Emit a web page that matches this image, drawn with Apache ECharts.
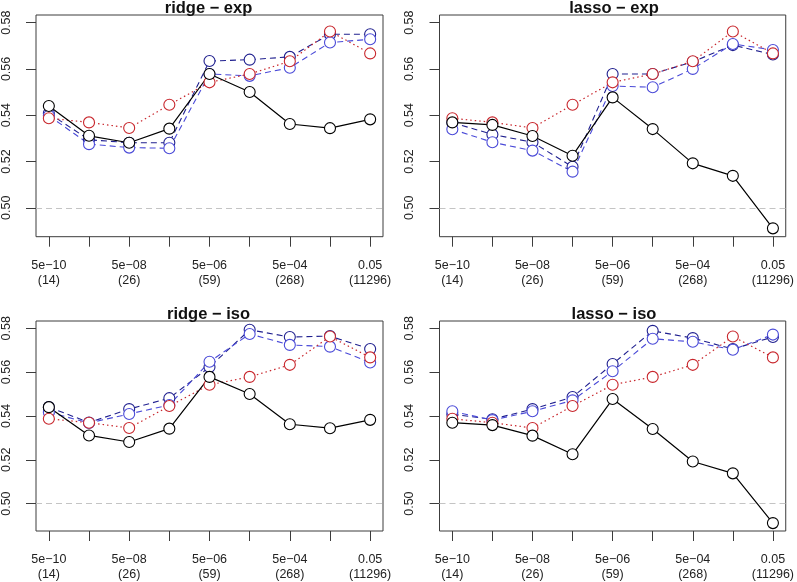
<!DOCTYPE html>
<html>
<head>
<meta charset="UTF-8">
<title>ridge / lasso</title>
<script src="https://cdn.jsdelivr.net/npm/echarts@6/dist/echarts.min.js"></script>
</head>
<body style="margin:0; background:#fff;">
<div id="main" style="width: 797px; height: 582px;"></div>
<script type="text/javascript">
// x positions and tick labels
var xPos = [1, 2, 3, 4, 5, 6, 7, 8, 9];
var labelAt = [1, 3, 5, 7, 9];
var lambdaLabels = ['5e\u221210', '5e\u221208', '5e\u221206', '5e\u221204', '0.05'];
var sizeLabels = ['(14)', '(26)', '(59)', '(268)', '(11296)'];
var yTicks = [0.50, 0.52, 0.54, 0.56, 0.58];
var panelTitles = ['ridge \u2212 exp', 'lasso \u2212 exp', 'ridge \u2212 iso', 'lasso \u2212 iso'];

// values
var blackRidge = [0.5440, 0.5311, 0.5281, 0.5342, 0.5578, 0.5500, 0.5362, 0.5344, 0.5382];
var blackLasso = [0.5369, 0.5358, 0.5310, 0.5225, 0.5477, 0.5340, 0.5192, 0.5138, 0.4911];
var redAll = [0.5387, 0.5369, 0.5345, 0.5445, 0.5542, 0.5578, 0.5633, 0.5762, 0.5667];

var ridgeExpDark = [0.5408, 0.5294, 0.5281, 0.5281, 0.5634, 0.5640, 0.5652, 0.5750, 0.5750];
var ridgeExpLight = [0.5398, 0.5275, 0.5260, 0.5257, 0.5578, 0.5570, 0.5605, 0.5714, 0.5728];
var lassoExpDark = [0.5368, 0.5317, 0.5283, 0.5177, 0.5578, 0.5578, 0.5631, 0.5703, 0.5662];
var lassoExpLight = [0.5339, 0.5283, 0.5247, 0.5156, 0.5526, 0.5521, 0.5600, 0.5708, 0.5682];
var ridgeIsoDark = [0.5440, 0.5370, 0.5431, 0.5481, 0.5623, 0.5793, 0.5760, 0.5764, 0.5705];
var ridgeIsoLight = [0.5417, 0.5368, 0.5409, 0.5450, 0.5647, 0.5774, 0.5724, 0.5716, 0.5644];
var lassoIsoDark = [0.5407, 0.5385, 0.5431, 0.5486, 0.5637, 0.5788, 0.5755, 0.5705, 0.5760];
var lassoIsoLight = [0.5421, 0.5381, 0.5421, 0.5471, 0.5604, 0.5752, 0.5738, 0.5702, 0.5771];

var panels = [
	{ dark: ridgeExpDark, light: ridgeExpLight, black: blackRidge },
	{ dark: lassoExpDark, light: lassoExpLight, black: blackLasso },
	{ dark: ridgeIsoDark, light: ridgeIsoLight, black: blackRidge },
	{ dark: lassoIsoDark, light: lassoIsoLight, black: blackLasso }
];

var font = 'Liberation Sans, Arial, Helvetica, sans-serif';
var boxLeft = [34, 439.5, 34, 439.5];
var boxTop = [15, 15, 321, 321];
var boxW = 349, boxH = 221.7;

function pts(vals) {
	return vals.map(function (v, i) { return [xPos[i], v]; });
}

function lineSeries(p, name, vals, color, dash, width) {
	return {
		name: name,
		type: 'line',
		xAxisIndex: p,
		yAxisIndex: p,
		data: pts(vals),
		symbol: 'circle',
		symbolSize: 11,
		lineStyle: { color: color, width: width, type: dash },
		itemStyle: { color: '#fff', borderColor: color, borderWidth: 1.1 },
		emphasis: { disabled: true }
	};
}

var myChart = echarts.init(document.getElementById('main'));
var grids = [], xAxes = [], yAxes = [], titles = [], series = [];

for (var p = 0; p < 4; p++) {
	grids.push({
		left: boxLeft[p], top: boxTop[p], width: boxW, height: boxH,
		show: true, borderColor: '#3c3c3c', borderWidth: 1
	});
	titles.push({
		text: panelTitles[p],
		left: boxLeft[p] + boxW / 2,
		top: boxTop[p] - 15,
		textAlign: 'center',
		padding: 0,
		textStyle: { fontFamily: font, fontSize: 16.5, fontWeight: 'bold', color: '#111', lineHeight: 16 }
	});
	xAxes.push({
		gridIndex: p, type: 'value', min: 0.68, max: 9.32,
		axisLine: { show: false },
		splitLine: { show: false },
		axisTick: { show: true, length: 10, customValues: xPos, lineStyle: { color: '#3c3c3c' } },
		axisLabel: {
			customValues: labelAt,
			margin: 21,
			fontFamily: font, fontSize: 12.5, lineHeight: 15, color: '#222',
			formatter: function (v) {
				var k = labelAt.indexOf(Math.round(v));
				return k < 0 ? '' : lambdaLabels[k] + '\n' + sizeLabels[k];
			}
		}
	});
	yAxes.push({
		gridIndex: p, type: 'value', min: 0.4875, max: 0.5833,
		axisLine: { show: false },
		splitLine: { show: false },
		axisTick: { show: true, length: 10, customValues: yTicks, lineStyle: { color: '#3c3c3c' } },
		axisLabel: {
			customValues: yTicks,
			rotate: 90,
			margin: 23,
			fontFamily: font, fontSize: 12.5, lineHeight: 13, color: '#222',
			formatter: function (v) { return v.toFixed(2); }
		}
	});

	var s1 = lineSeries(p, 'dark', panels[p].dark, '#20208f', [6, 4], 1.1);
	s1.markLine = {
		silent: true, symbol: 'none', animation: false,
		label: { show: false },
		lineStyle: { color: '#c4c4c4', type: [6, 4], width: 1.2 },
		data: [{ yAxis: 0.5 }]
	};
	series.push(s1);
	series.push(lineSeries(p, 'light', panels[p].light, '#4a4ad8', [6, 4], 1.1));
	series.push(lineSeries(p, 'red', redAll, '#c8262c', [1.5, 3], 1.2));
	series.push(lineSeries(p, 'black', panels[p].black, '#000', 'solid', 1.2));
}

var option = {
	animation: false,
	backgroundColor: '#fff',
	title: titles,
	grid: grids,
	xAxis: xAxes,
	yAxis: yAxes,
	series: series
};
myChart.setOption(option);
</script>
</body>
</html>
